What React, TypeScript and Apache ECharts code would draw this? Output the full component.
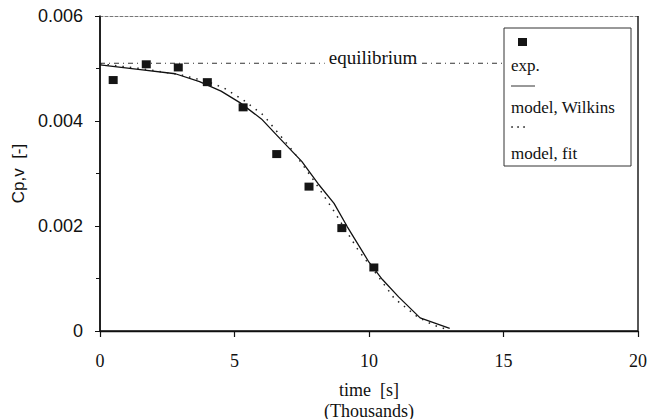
import React, { useEffect, useRef } from "react";
import * as echarts from "echarts";

// exp. data: time (thousands of s), Cp,v
const expTime = [0.49, 1.72, 2.91, 3.99, 5.32, 6.57, 7.77, 8.99, 10.18];
const expValue = [0.00478, 0.00508, 0.00502, 0.00474, 0.00426, 0.00337, 0.00275, 0.00196, 0.00121];

// model, Wilkins (solid)
const wilkinsTime = [0, 1.5, 2.8, 3.7, 4.5, 5.2, 6.0, 6.7, 7.5, 8.1, 8.7, 9.2, 10.0, 10.5, 11.1, 11.9, 13.0];
const wilkinsValue = [0.00507, 0.00498, 0.0049, 0.00475, 0.00457, 0.00435, 0.00404, 0.00366, 0.00323, 0.00281, 0.00243, 0.00198, 0.00131, 0.00098, 0.00065, 0.00025, 0.00005];

// model, fit (dotted)
const fitTime = [0, 1.5, 3.0, 4.0, 4.6, 5.3, 6.08, 7.2, 8.0, 8.7, 9.6, 10.3, 10.94, 11.8, 12.4, 12.9];
const fitValue = [0.00509, 0.005, 0.00488, 0.00475, 0.00463, 0.00441, 0.00411, 0.00341, 0.00283, 0.00228, 0.00154, 0.00107, 0.00062, 0.00027, 0.00011, 0.00003];

// equilibrium
const equilibriumTime = [0, 15.07];
const equilibriumValue = 0.0051;
const equilibriumLabelTime = 10.15;

const xTicks = { min: 0, max: 20, interval: 5 };
const yTicks = { min: 0, max: 0.006, interval: 0.002 };

const legendLabels = ["exp.", "model, Wilkins", "model, fit"];

const SERIF = "'Liberation Serif', 'Times New Roman', serif";
const SANS = "'Liberation Sans', Arial, sans-serif";

const zip = (xs: number[], ys: number[]) => xs.map((x, i) => [x, ys[i]]);

export default function App() {
  const ref = useRef<HTMLDivElement>(null);
  useEffect(() => {
    if (!ref.current) return;
    const chart = echarts.init(ref.current, null, { renderer: "svg" });
    const dark = "#111111";
    chart.setOption({
      animation: false,
      backgroundColor: "#ffffff",
      grid: {
        left: 100,
        right: 21,
        top: 16,
        bottom: 88,
        containLabel: false,
        outerBoundsMode: "none",
        show: false,
      },
      xAxis: [
        {
          type: "value",
          position: "bottom",
          min: xTicks.min,
          max: xTicks.max,
          interval: xTicks.interval,
          name: "time  [s]\n(Thousands)",
          nameLocation: "middle",
          nameGap: 48,
          nameTextStyle: { fontFamily: SERIF, fontSize: 18, color: dark, lineHeight: 21 },
          axisLine: { show: true, onZero: false, lineStyle: { color: dark, width: 1.3 } },
          axisTick: { show: true, inside: false, length: 6, lineStyle: { color: dark, width: 1.2 } },
          axisLabel: { fontFamily: SERIF, fontSize: 18, color: dark, margin: 21 },
          splitLine: { show: false },
          splitArea: { show: false },
        },
        {
          type: "value",
          position: "top",
          min: xTicks.min,
          max: xTicks.max,
          axisLine: { show: true, onZero: false, lineStyle: { color: "#777", width: 1, type: [3, 2] } },
          axisTick: { show: false },
          axisLabel: { show: false },
          splitLine: { show: false },
          splitArea: { show: false },
        },
      ],
      yAxis: [
        {
          type: "value",
          position: "left",
          min: yTicks.min,
          max: yTicks.max,
          interval: yTicks.interval,
          name: "Cp,v  [-]",
          nameLocation: "middle",
          nameGap: 64,
          nameTextStyle: { fontFamily: SANS, fontSize: 17, color: dark },
          axisLine: { show: true, onZero: false, lineStyle: { color: dark, width: 1.5 } },
          axisTick: { show: true, inside: false, length: 5, lineStyle: { color: dark, width: 1 } },
          minorTick: { show: true, splitNumber: 2, length: 4, lineStyle: { color: dark, width: 1 } },
          axisLabel: {
            fontFamily: SANS,
            fontSize: 18,
            color: dark,
            margin: 17,
            formatter: (v: number) => (v === 0 ? "0" : v.toFixed(3)),
          },
          splitLine: { show: false },
          splitArea: { show: false },
        },
      ],
      series: [
        {
          name: "frame",
          type: "line",
          data: [
            [xTicks.min, yTicks.max],
            [xTicks.min, yTicks.min],
            [xTicks.max, yTicks.min],
            [xTicks.max, yTicks.max],
          ],
          symbol: "none",
          clip: false,
          silent: true,
          lineStyle: { color: dark, width: 1.4 },
          z: 10,
        },
        {
          name: "equilibrium",
          type: "line",
          data: equilibriumTime.map((t) => [t, equilibriumValue]),
          symbol: "none",
          lineStyle: { color: "#333", width: 1, type: [5, 4, 1, 4] },
          z: 1,
          markPoint: {
            symbol: "circle",
            symbolSize: 0,
            data: [{ coord: [equilibriumLabelTime, equilibriumValue] }],
            label: {
              show: true,
              position: "inside",
              offset: [0, -6],
              formatter: "equilibrium",
              fontFamily: SERIF,
              fontSize: 19,
              color: dark,
              backgroundColor: "#ffffff",
              padding: [0, 4, 0, 4],
            },
          },
        },
        {
          name: "model, Wilkins",
          type: "line",
          data: zip(wilkinsTime, wilkinsValue),
          symbol: "none",
          lineStyle: { color: "#111", width: 1.3 },
          z: 3,
        },
        {
          name: "model, fit",
          type: "line",
          data: zip(fitTime, fitValue),
          symbol: "none",
          lineStyle: { color: "#222", width: 1.5, type: [1.5, 6] },
          z: 3,
        },
        {
          name: "exp.",
          type: "scatter",
          data: zip(expTime, expValue),
          symbol: "rect",
          symbolSize: [9, 8],
          itemStyle: { color: "#151515", opacity: 1 },
          z: 5,
        },
      ],
      graphic: [
        {
          type: "rect",
          shape: { x: 504, y: 28, width: 127, height: 138 },
          style: { fill: "#ffffff", stroke: "#333", lineWidth: 1 },
          z: 50,
        },
        { type: "rect", shape: { x: 518, y: 38, width: 9, height: 8 }, style: { fill: "#151515" }, z: 51 },
        {
          type: "text",
          x: 511,
          y: 65,
          style: { text: legendLabels[0], fontFamily: SERIF, fontSize: 17, fill: dark, verticalAlign: "middle" },
          z: 51,
        },
        { type: "line", shape: { x1: 511, y1: 86, x2: 535, y2: 86 }, style: { stroke: "#333", lineWidth: 1 }, z: 51 },
        {
          type: "text",
          x: 511,
          y: 107,
          style: { text: legendLabels[1], fontFamily: SERIF, fontSize: 17, fill: dark, verticalAlign: "middle" },
          z: 51,
        },
        { type: "circle", shape: { cx: 512, cy: 127, r: 0.9 }, style: { fill: "#333" }, z: 51 },
        { type: "circle", shape: { cx: 518, cy: 127, r: 0.9 }, style: { fill: "#333" }, z: 51 },
        { type: "circle", shape: { cx: 524, cy: 127, r: 0.9 }, style: { fill: "#333" }, z: 51 },
        {
          type: "text",
          x: 511,
          y: 153,
          style: { text: legendLabels[2], fontFamily: SERIF, fontSize: 17, fill: dark, verticalAlign: "middle" },
          z: 51,
        },
      ],
    });
    return () => chart.dispose();
  }, []);
  return <div ref={ref} style={{ width: 659, height: 419, position: "absolute", left: 0, top: 0 }} />;
}
